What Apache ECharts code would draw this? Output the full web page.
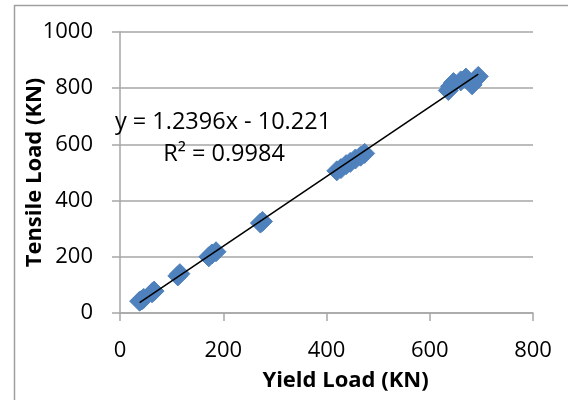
<!DOCTYPE html>
<html>
<head>
<meta charset="utf-8">
<script src="https://cdn.jsdelivr.net/npm/echarts@6/dist/echarts.min.js"></script>
<style>
  html, body { margin: 0; padding: 0; background: #fff; }
  #chart { width: 568px; height: 400px; }
</style>
</head>
<body>
<div id="chart"></div>
<script>
// Yield load vs tensile load measurements (KN)
const yieldLoad = [38, 42, 46, 62, 66, 112, 116, 172, 178, 186, 272, 276, 420, 428, 438, 446, 456, 466, 474, 636, 640, 646, 660, 670, 682, 688, 694];
const tensileLoad = [42, 46, 52, 72, 78, 132, 140, 200, 210, 218, 320, 326, 506, 514, 528, 536, 548, 558, 568, 792, 806, 820, 826, 836, 812, 830, 842];

// Linear fit reported for the data
const slope = 1.2396;
const intercept = -10.221;
const rSquared = 0.9984;

const xTicks = [0, 200, 400, 600, 800];
const yTicks = [0, 200, 400, 600, 800, 1000];

const points = yieldLoad.map((x, i) => [x, tensileLoad[i]]);
const xMin = Math.min(...yieldLoad);
const xMax = Math.max(...yieldLoad);
const trend = [[xMin, slope * xMin + intercept], [xMax, slope * xMax + intercept]];

const font = '"Open Sans", "Noto Sans", sans-serif';
const gridGray = '#a6a6a6';
const plain = v => String(v);

const chart = echarts.init(document.getElementById('chart'), null, { renderer: 'canvas' });
chart.setOption({
  animation: false,
  backgroundColor: '#fff',
  grid: { left: 120, right: 35, top: 32, bottom: 87 },
  xAxis: {
    type: 'value',
    min: xTicks[0],
    max: xTicks[xTicks.length - 1],
    interval: 200,
    name: 'Yield Load (KN)',
    nameLocation: 'middle',
    nameGap: 57,
    nameMoveOverlap: false,
    nameTextStyle: { fontFamily: font, fontSize: 22, fontWeight: 'bold', color: '#000', padding: [0, 0, 0, 38] },
    axisLine: { show: true, lineStyle: { color: gridGray, width: 1.5 } },
    axisTick: { show: true, length: 8, lineStyle: { color: gridGray, width: 1.5 } },
    axisLabel: { margin: 27, fontFamily: font, fontSize: 22, color: '#000', formatter: plain },
    splitLine: { show: false }
  },
  yAxis: {
    type: 'value',
    min: yTicks[0],
    max: yTicks[yTicks.length - 1],
    interval: 200,
    name: 'Tensile Load (KN)',
    nameLocation: 'middle',
    nameGap: 74,
    nameMoveOverlap: false,
    nameTextStyle: { fontFamily: font, fontSize: 22, fontWeight: 'bold', color: '#000' },
    axisLine: { show: true, lineStyle: { color: gridGray, width: 1.5 } },
    axisTick: { show: true, length: 8, lineStyle: { color: gridGray, width: 1.5 } },
    axisLabel: { margin: 27, fontFamily: font, fontSize: 22, color: '#000', formatter: plain },
    splitLine: { show: true, lineStyle: { color: gridGray, width: 1.5 } }
  },
  series: [
    {
      type: 'scatter',
      data: points,
      symbol: 'diamond',
      symbolSize: 20,
      itemStyle: { color: '#4f81bd', borderColor: '#4f81bd', borderWidth: 1, opacity: 1 },
      z: 2
    },
    {
      type: 'line',
      data: trend,
      symbol: 'none',
      lineStyle: { color: '#000', width: 1.6 },
      z: 3
    }
  ],
  graphic: [
    {
      type: 'rect',
      shape: { x: 14.5, y: 5.5, width: 700, height: 500 },
      style: { fill: 'none', stroke: '#a0a0a0', lineWidth: 1.5 },
      silent: true
    },
    {
      type: 'text',
      x: 223, y: 122,
      style: {
        text: 'y = ' + slope.toFixed(4) + 'x - ' + Math.abs(intercept).toFixed(3),
        fontFamily: font, fontSize: 23.5, fill: '#000',
        textAlign: 'center', textVerticalAlign: 'middle'
      },
      z: 10
    },
    {
      type: 'text',
      x: 224, y: 154,
      style: {
        text: 'R² = ' + rSquared.toFixed(4),
        fontFamily: font, fontSize: 23.5, fill: '#000',
        textAlign: 'center', textVerticalAlign: 'middle'
      },
      z: 10
    }
  ]
});
</script>
</body>
</html>
